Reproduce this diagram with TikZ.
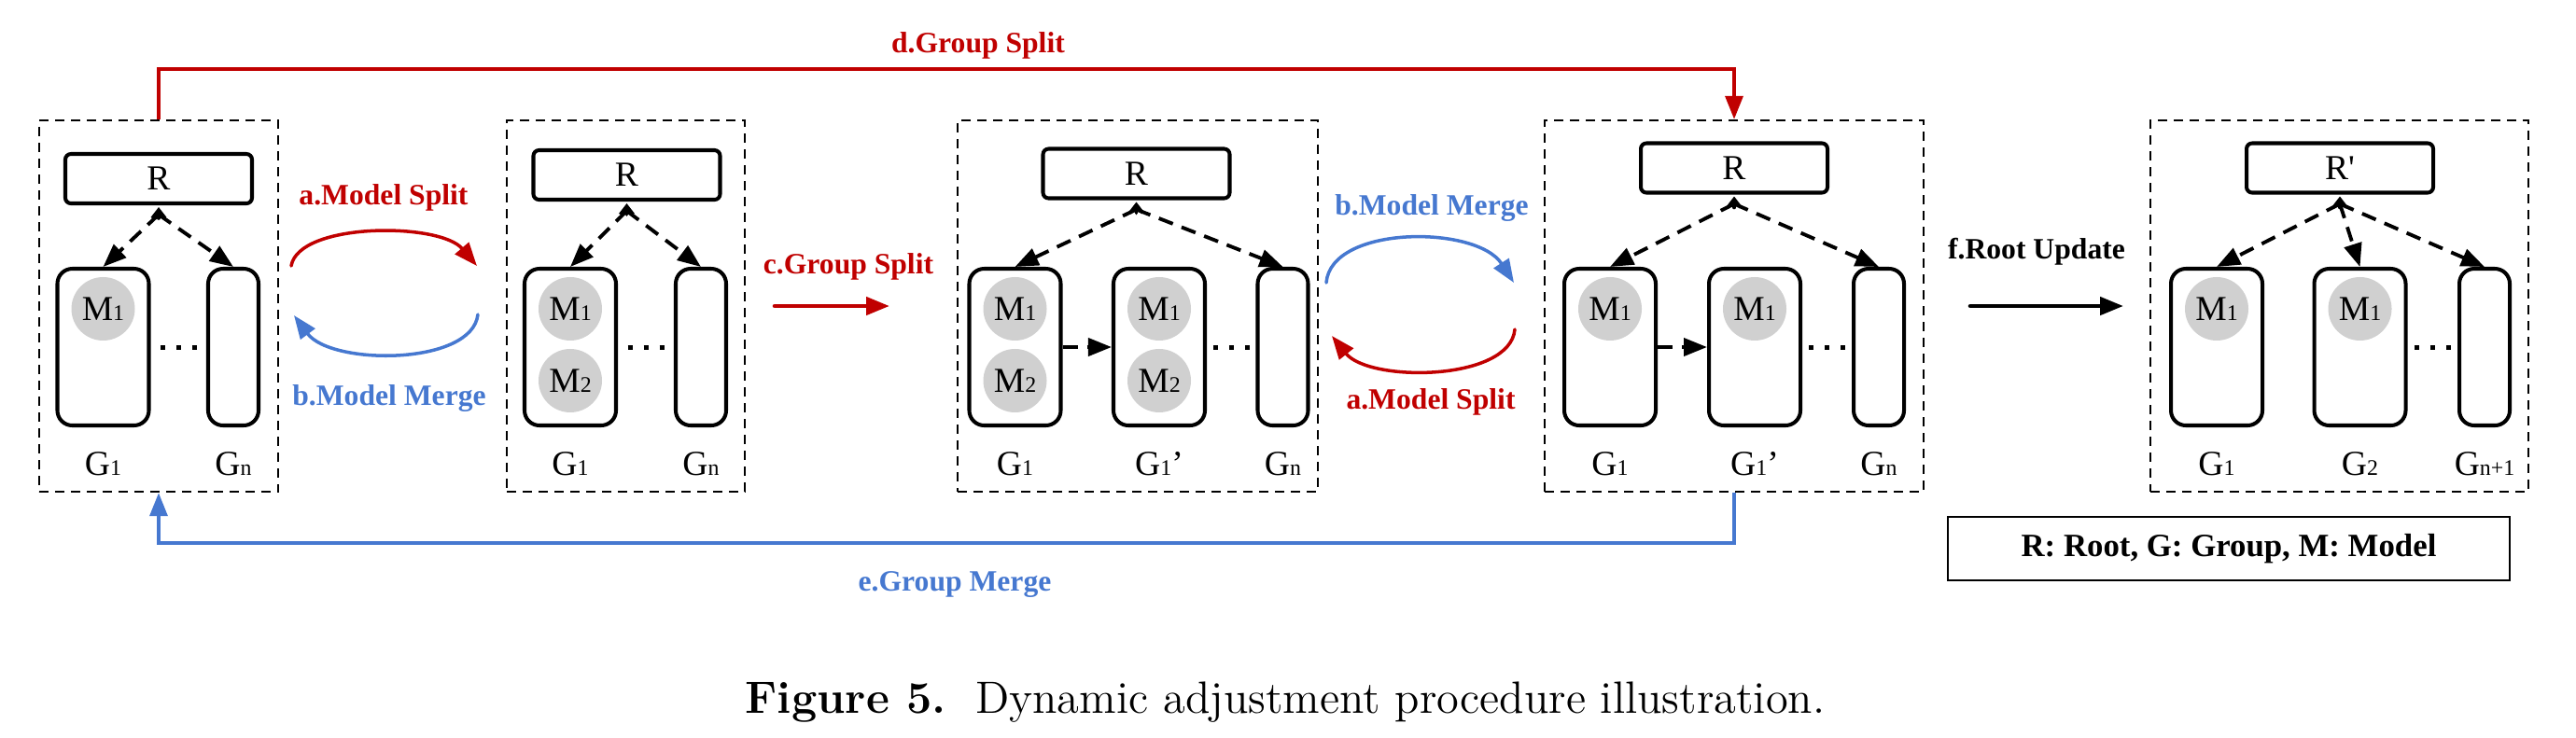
\documentclass[tikz,border=0pt]{standalone}
\usepackage{fontspec}
\newfontfamily\tnr{Liberation Serif}
\usepackage{tikz}
\usetikzlibrary{arrows.meta,positioning}
\usepackage{xcolor}
\definecolor{splitred}{HTML}{C00000}
\definecolor{mergeblue}{HTML}{4678D0}
\definecolor{modelgray}{HTML}{D0D0D0}
\newcommand{\lo}[1]{{\fontsize{6.8}{7}\selectfont #1}}

\begin{document}
\begin{tikzpicture}[>={Triangle[length=2.5mm,width=1.9mm]},font=\tnr\fontsize{10.7}{12.8}\selectfont,line cap=round,
  frame/.style={draw,line width=0.7pt,line cap=butt,dash pattern=on 1mm off 0.7mm,minimum width=#1,minimum height=3.98cm,inner sep=0pt},
  rootbox/.style={draw,line width=1.15pt,rounded corners=0.6mm,minimum width=2cm,minimum height=0.53cm,inner sep=0pt},
  groupbox/.style={draw,line width=1.15pt,rounded corners=1.6mm,minimum width=0.98cm,minimum height=1.68cm,inner sep=0pt},
  thinbox/.style={draw,line width=1.15pt,rounded corners=1.6mm,minimum width=0.54cm,minimum height=1.68cm,inner sep=0pt},
  model/.style={circle,fill=modelgray,minimum size=0.68cm,inner sep=0pt},
  glabel/.style={anchor=base},
  link/.style={->,line width=1.1pt,line cap=butt,dash pattern=on 1.6mm off 1mm},
  apex/.style={-{Straight Barb[length=0.9mm,width=1.4mm]},line width=1pt},
  dotrow/.style={line width=0.5mm,line cap=butt,dash pattern=on 0.5mm off 1.2mm},
  tag/.style={anchor=base,font=\tnr\bfseries\fontsize{9}{11}\selectfont},
  flow/.style={->,line width=1pt},
  bigflow/.style={->,line width=1.3pt},
  keybox/.style={draw,line width=0.8pt,minimum width=6.02cm,minimum height=0.68cm,font=\tnr\bfseries\fontsize{9.9}{12}\selectfont}]
\useasboundingbox (0,0) rectangle (27.6,-7.9);

% state 1
\node[frame=2.565cm] (box1) at (1.70,-3.28) {};
\node[rootbox] (r1) at (1.70,-1.915) {R};
\node[groupbox] (b1g1) at (1.105,-3.72) {};
\node[thinbox] (b1gn) at (2.50,-3.72) {};
\node[model] (b1m1) at ([yshift=-0.45cm]b1g1.north) {M\lo{1}};
\node[glabel] (b1l1) at ([yshift=-0.51cm]b1g1.south) {G\lo{1}};
\node[glabel] (b1ln) at ([yshift=-0.51cm]b1gn.south) {G\lo{n}};
\draw[apex] ([yshift=-0.14cm]r1.south) -- ([yshift=-0.02cm]r1.south);
\draw[link] ([yshift=-0.1cm]r1.south) -- (b1g1.north);
\draw[link] ([yshift=-0.1cm]r1.south) -- (b1gn.north);
\path (b1g1.east) -- coordinate[midway] (b1d) (b1gn.west);
\draw[dotrow] ([xshift=-1.95mm]b1d) -- ([xshift=1.95mm]b1d);

% state 2
\node[frame=2.55cm] (box2) at (6.705,-3.28) {};
\node[rootbox] (r2) at (6.715,-1.875) {R};
\node[groupbox] (b2g1) at (6.11,-3.72) {};
\node[thinbox] (b2gn) at (7.51,-3.72) {};
\node[model] (b2m1) at ([yshift=-0.45cm]b2g1.north) {M\lo{1}};
\node[model] (b2m2) at ([yshift=-1.22cm]b2g1.north) {M\lo{2}};
\node[glabel] (b2l1) at ([yshift=-0.51cm]b2g1.south) {G\lo{1}};
\node[glabel] (b2ln) at ([yshift=-0.51cm]b2gn.south) {G\lo{n}};
\draw[apex] ([yshift=-0.14cm]r2.south) -- ([yshift=-0.02cm]r2.south);
\draw[link] ([yshift=-0.1cm]r2.south) -- (b2g1.north);
\draw[link] ([yshift=-0.1cm]r2.south) -- (b2gn.north);
\path (b2g1.east) -- coordinate[midway] (b2d) (b2gn.west);
\draw[dotrow] ([xshift=-1.95mm]b2d) -- ([xshift=1.95mm]b2d);

% state 3
\node[frame=3.86cm] (box3) at (12.19,-3.28) {};
\node[rootbox] (r3) at (12.175,-1.86) {R};
\node[groupbox] (b3g1) at (10.875,-3.72) {};
\node[groupbox] (b3g1p) at (12.42,-3.72) {};
\node[thinbox] (b3gn) at (13.745,-3.72) {};
\node[model] (b3m1) at ([yshift=-0.45cm]b3g1.north) {M\lo{1}};
\node[model] (b3m2) at ([yshift=-1.22cm]b3g1.north) {M\lo{2}};
\node[model] (b3m1p) at ([yshift=-0.45cm]b3g1p.north) {M\lo{1}};
\node[model] (b3m2p) at ([yshift=-1.22cm]b3g1p.north) {M\lo{2}};
\node[glabel] (b3l1) at ([yshift=-0.51cm]b3g1.south) {G\lo{1}};
\node[glabel] (b3l1p) at ([yshift=-0.51cm]b3g1p.south) {G\lo{1}’};
\node[glabel] (b3ln) at ([yshift=-0.51cm]b3gn.south) {G\lo{n}};
\draw[apex] ([yshift=-0.14cm]r3.south) -- ([yshift=-0.02cm]r3.south);
\draw[link] ([yshift=-0.1cm]r3.south) -- (b3g1.north);
\draw[link] ([yshift=-0.1cm]r3.south) -- (b3gn.north);
\draw[link] (b3g1) -- (b3g1p);
\path (b3g1p.east) -- coordinate[midway] (b3d) (b3gn.west);
\draw[dotrow] ([xshift=-1.95mm]b3d) -- ([xshift=1.95mm]b3d);

% state 4
\node[frame=4.06cm] (box4) at (18.58,-3.28) {};
\node[rootbox] (r4) at (18.58,-1.80) {R};
\node[groupbox] (b4g1) at (17.25,-3.72) {};
\node[groupbox] (b4g1p) at (18.80,-3.72) {};
\node[thinbox] (b4gn) at (20.13,-3.72) {};
\node[model] (b4m1) at ([yshift=-0.45cm]b4g1.north) {M\lo{1}};
\node[model] (b4m1p) at ([yshift=-0.45cm]b4g1p.north) {M\lo{1}};
\node[glabel] (b4l1) at ([yshift=-0.51cm]b4g1.south) {G\lo{1}};
\node[glabel] (b4l1p) at ([yshift=-0.51cm]b4g1p.south) {G\lo{1}’};
\node[glabel] (b4ln) at ([yshift=-0.51cm]b4gn.south) {G\lo{n}};
\draw[apex] ([yshift=-0.14cm]r4.south) -- ([yshift=-0.02cm]r4.south);
\draw[link] ([yshift=-0.1cm]r4.south) -- (b4g1.north);
\draw[link] ([yshift=-0.1cm]r4.south) -- (b4gn.north);
\draw[link] (b4g1) -- (b4g1p);
\path (b4g1p.east) -- coordinate[midway] (b4d) (b4gn.west);
\draw[dotrow] ([xshift=-1.95mm]b4d) -- ([xshift=1.95mm]b4d);

% state 5
\node[frame=4.05cm] (box5) at (25.065,-3.28) {};
\node[rootbox] (r5) at (25.07,-1.80) {R\textquotesingle};
\node[groupbox] (b5g1) at (23.75,-3.72) {};
\node[groupbox] (b5g2) at (25.285,-3.72) {};
\node[thinbox] (b5gn) at (26.62,-3.72) {};
\node[model] (b5m1) at ([yshift=-0.45cm]b5g1.north) {M\lo{1}};
\node[model] (b5m1p) at ([yshift=-0.45cm]b5g2.north) {M\lo{1}};
\node[glabel] (b5l1) at ([yshift=-0.51cm]b5g1.south) {G\lo{1}};
\node[glabel] (b5l2) at ([yshift=-0.51cm]b5g2.south) {G\lo{2}};
\node[glabel] (b5ln) at ([yshift=-0.51cm]b5gn.south) {G\lo{n+1}};
\draw[apex] ([yshift=-0.14cm]r5.south) -- ([yshift=-0.02cm]r5.south);
\draw[link] ([yshift=-0.1cm]r5.south) -- (b5g1.north);
\draw[link] ([yshift=-0.1cm]r5.south) -- (b5g2.north);
\draw[link] ([yshift=-0.1cm]r5.south) -- (b5gn.north);
\path (b5g2.east) -- coordinate[midway] (b5d) (b5gn.west);
\draw[dotrow] ([xshift=-1.95mm]b5d) -- ([xshift=1.95mm]b5d);

% transitions
\coordinate (ms1s) at (3.12,-2.85);
\coordinate (ms1e) at (5.11,-2.85);
\coordinate (mm1s) at (5.12,-3.37);
\coordinate (mm1e) at (3.15,-3.38);
\draw[flow,splitred] (ms1s) .. controls +(0.08,0.47) and +(-0.4,0.47) .. (ms1e);
\draw[flow,mergeblue] (mm1s) .. controls +(-0.06,-0.55) and +(0.4,-0.54) .. (mm1e);
\node[tag,splitred] (tms1) at (4.11,-2.19) {a.Model Split};
\node[tag,mergeblue] (tmm1) at (4.17,-4.34) {b.Model Merge};

\coordinate (gs1) at (8.30,-3.28);
\coordinate (gs2) at (9.53,-3.28);
\draw[bigflow,splitred] (gs1) -- (gs2);
\node[tag,splitred] (tgs1) at (9.09,-2.93) {c.Group Split};

\coordinate (mm2s) at (14.21,-3.03);
\coordinate (mm2e) at (16.22,-3.03);
\coordinate (ms2s) at (16.23,-3.53);
\coordinate (ms2e) at (14.27,-3.60);
\draw[flow,mergeblue] (mm2s) .. controls +(0.05,0.62) and +(-0.4,0.62) .. (mm2e);
\draw[flow,splitred] (ms2s) .. controls +(-0.05,-0.56) and +(0.4,-0.5) .. (ms2e);
\node[tag,mergeblue] (tmm2) at (15.34,-2.30) {b.Model Merge};
\node[tag,splitred] (tms2) at (15.33,-4.38) {a.Model Split};

\draw[flow,splitred,line cap=butt] (box1.north) -- ++(0,0.54) -| (box4.north);
\node[tag,splitred] (tgs2) at (10.48,-0.56) {d.Group Split};
\draw[flow,mergeblue,line cap=butt] (box4.south) -- ++(0,-0.54) -| (box1.south);
\node[tag,mergeblue] (tgm) at (10.23,-6.33) {e.Group Merge};

\coordinate (ru1) at (21.11,-3.28);
\coordinate (ru2) at (22.75,-3.28);
\draw[bigflow] (ru1) -- (ru2);
\node[tag] (tru) at (21.82,-2.77) {f.Root Update};

\node[keybox] (key) at (23.88,-5.88) {R: Root, G: Group, M: Model};

\node[anchor=base,font=\rmfamily\fontsize{13.8}{16}\selectfont] (caption) at (13.77,-7.64) {\textbf{Figure 5.}\ \ Dynamic adjustment procedure illustration.};
\end{tikzpicture}
\end{document}
